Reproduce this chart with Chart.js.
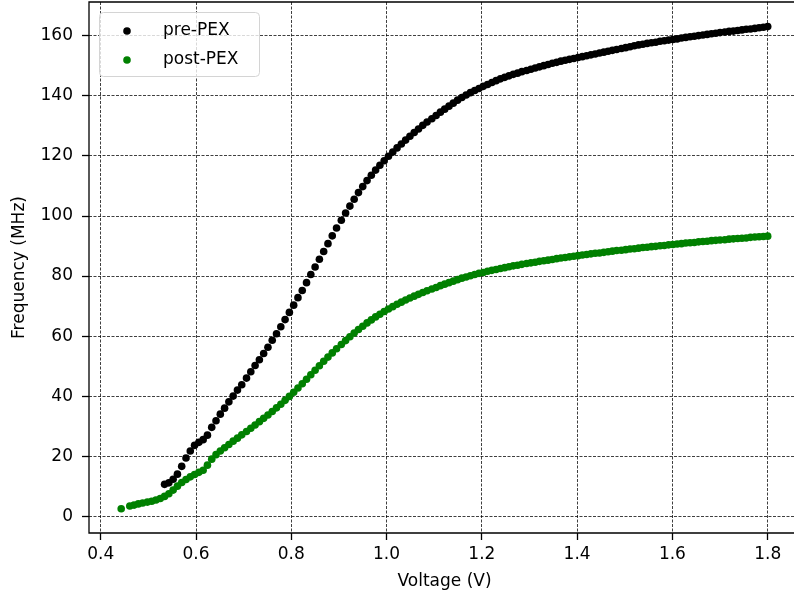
<!DOCTYPE html>
<html>
<head>
<meta charset="utf-8">
<script src="https://cdn.jsdelivr.net/npm/chart.js@4.4.1/dist/chart.umd.min.js"></script>
<style>
  html, body { margin: 0; padding: 0; overflow: hidden; background: #fff; }
  #wrap { width: 794px; height: 596px; overflow: hidden; }
  canvas { display: block; }
</style>
</head>
<body>
<div id="wrap"><canvas id="freqChart" width="802" height="596"></canvas></div>
<script>
// sweep voltages (V)
const voltage = [
  0.443, 0.452, 0.461, 0.470, 0.479, 0.488, 0.498, 0.507, 0.516, 0.525,
  0.534, 0.543, 0.552, 0.561, 0.570, 0.579, 0.588, 0.597, 0.606, 0.615,
  0.624, 0.633, 0.642, 0.651, 0.660, 0.669, 0.678, 0.687, 0.696, 0.706,
  0.715, 0.724, 0.733, 0.742, 0.751, 0.760, 0.769, 0.778, 0.787, 0.796,
  0.805, 0.814, 0.823, 0.832, 0.841, 0.850, 0.859, 0.868, 0.877, 0.886,
  0.895, 0.905, 0.914, 0.923, 0.932, 0.941, 0.950, 0.959, 0.968, 0.977,
  0.986, 0.995, 1.004, 1.013, 1.022, 1.031, 1.040, 1.049, 1.058, 1.067,
  1.076, 1.085, 1.095, 1.104, 1.113, 1.122, 1.131, 1.140, 1.149, 1.158,
  1.167, 1.176, 1.185, 1.194, 1.203, 1.212, 1.221, 1.230, 1.239, 1.248,
  1.257, 1.266, 1.275, 1.284, 1.294, 1.303, 1.312, 1.321, 1.330, 1.339,
  1.348, 1.357, 1.366, 1.375, 1.384, 1.393, 1.402, 1.411, 1.420, 1.429,
  1.438, 1.447, 1.456, 1.465, 1.474, 1.483, 1.493, 1.502, 1.511, 1.520,
  1.529, 1.538, 1.547, 1.556, 1.565, 1.574, 1.583, 1.592, 1.601, 1.610,
  1.619, 1.628, 1.637, 1.646, 1.655, 1.664, 1.673, 1.682, 1.691, 1.700,
  1.710, 1.719, 1.728, 1.737, 1.746, 1.755, 1.764, 1.773, 1.782, 1.791,
  1.800
];

// frequency (MHz), null = no oscillation / no sample
const prePex = [
  null, null, null, null, null, null, null, null, null, null,
  10.6, 11.1, 12.3, 14.0, 16.6, 19.4, 21.7, 23.6, 24.6, 25.5,
  27.0, 29.6, 31.8, 34.0, 36.0, 38.1, 40.0, 42.0, 43.8, 46.0,
  48.1, 50.2, 52.1, 54.2, 56.3, 58.6, 60.8, 63.1, 65.5, 67.9,
  70.3, 72.8, 75.2, 77.8, 80.5, 83.0, 85.6, 88.2, 90.8, 93.4,
  96.0, 98.6, 101.0, 103.3, 105.6, 107.8, 109.8, 111.8, 113.6, 115.3,
  116.9, 118.4, 119.9, 121.3, 122.7, 124.0, 125.3, 126.6, 127.8, 129.0,
  130.2, 131.3, 132.4, 133.5, 134.6, 135.6, 136.6, 137.6, 138.6, 139.5,
  140.3, 141.1, 141.8, 142.5, 143.2, 143.8, 144.5, 145.1, 145.7, 146.2,
  146.7, 147.2, 147.6, 148.1, 148.5, 148.9, 149.3, 149.7, 150.1, 150.5,
  150.9, 151.2, 151.6, 151.9, 152.2, 152.5, 152.8, 153.1, 153.4, 153.7,
  154.0, 154.3, 154.6, 154.9, 155.2, 155.5, 155.8, 156.1, 156.4, 156.7,
  157.0, 157.2, 157.5, 157.7, 157.9, 158.2, 158.4, 158.6, 158.8, 159.0,
  159.3, 159.5, 159.7, 159.9, 160.1, 160.3, 160.5, 160.7, 160.9, 161.1,
  161.3, 161.5, 161.6, 161.8, 162.0, 162.2, 162.3, 162.5, 162.7, 162.9,
  163.1
];

const postPex = [
  2.5, null, 3.4, 3.7, 4.1, 4.4, 4.7, 5.0, 5.4, 5.9,
  6.6, 7.5, 8.7, 10.0, 11.2, 12.2, 13.1, 13.9, 14.6, 15.3,
  17.0, 19.0, 20.5, 21.7, 22.8, 23.9, 25.0, 26.0, 27.1, 28.2,
  29.3, 30.4, 31.5, 32.6, 33.7, 34.9, 36.1, 37.3, 38.6, 39.9,
  41.3, 42.7, 44.1, 45.6, 47.1, 48.6, 50.1, 51.6, 53.0, 54.4,
  55.8, 57.2, 58.5, 59.8, 61.0, 62.2, 63.3, 64.4, 65.4, 66.4,
  67.3, 68.2, 69.0, 69.8, 70.6, 71.3, 72.0, 72.7, 73.3, 73.9,
  74.5, 75.1, 75.7, 76.2, 76.8, 77.3, 77.8, 78.3, 78.8, 79.3,
  79.7, 80.1, 80.5, 80.9, 81.2, 81.6, 81.9, 82.2, 82.5, 82.8,
  83.1, 83.4, 83.6, 83.9, 84.2, 84.4, 84.6, 84.9, 85.1, 85.3,
  85.5, 85.8, 86.0, 86.2, 86.4, 86.6, 86.8, 87.0, 87.2, 87.4,
  87.6, 87.7, 87.9, 88.1, 88.3, 88.5, 88.6, 88.8, 89.0, 89.1,
  89.3, 89.5, 89.6, 89.8, 89.9, 90.1, 90.2, 90.4, 90.5, 90.7,
  90.8, 91.0, 91.1, 91.2, 91.4, 91.5, 91.6, 91.8, 91.9, 92.0,
  92.1, 92.3, 92.4, 92.5, 92.6, 92.7, 92.9, 93.0, 93.1, 93.2,
  93.3
];

const xTicks = [0.4, 0.6, 0.8, 1.0, 1.2, 1.4, 1.6, 1.8];
const yTicks = [0, 20, 40, 60, 80, 100, 120, 140, 160];

const FONT = 'DejaVu Sans';

function toPoints(values) {
  const pts = [];
  values.forEach((f, i) => {
    if (f !== null) pts.push({ x: voltage[i], y: f });
  });
  return pts;
}

// no extra room for overhanging tick labels: keep the plot box fixed
function noOverhang(s) {
  s.paddingLeft = 0;
  s.paddingRight = 0;
  s.paddingTop = 0;
  s.paddingBottom = 0;
}

// axes frame: left, top and bottom spines (right one falls outside the picture)
const frame = {
  id: 'frame',
  afterDraw(chart) {
    const { ctx, chartArea: a } = chart;
    ctx.save();
    ctx.strokeStyle = '#000';
    ctx.lineWidth = 1.3;
    ctx.beginPath();
    ctx.moveTo(a.right + 2, a.top);
    ctx.lineTo(a.left, a.top);
    ctx.lineTo(a.left, a.bottom);
    ctx.lineTo(a.right + 2, a.bottom);
    ctx.stroke();
    ctx.restore();
  }
};

// legend box in upper left corner
const legendBox = {
  id: 'legendBox',
  afterDraw(chart) {
    const ctx = chart.ctx;
    ctx.save();
    ctx.beginPath();
    ctx.roundRect(99.5, 12.5, 160, 64, 4);
    ctx.fillStyle = 'rgba(255,255,255,0.8)';
    ctx.fill();
    ctx.strokeStyle = '#d4d4d4';
    ctx.lineWidth = 1;
    ctx.stroke();
    chart.data.datasets.forEach((ds, i) => {
      const y = 31 + i * 29;
      ctx.beginPath();
      ctx.arc(127, y, 3.8, 0, Math.PI * 2);
      ctx.fillStyle = ds.backgroundColor;
      ctx.fill();
      ctx.fillStyle = '#000';
      ctx.font = '17px "' + FONT + '"';
      ctx.textBaseline = 'middle';
      ctx.fillText(ds.label, 163, y);
    });
    ctx.restore();
  }
};

const gridOpts = {
  color: 'rgba(0,0,0,0.75)',
  lineWidth: 1,
  tickColor: '#000',
  tickLength: 7,
  tickWidth: 1.3,
  tickBorderDash: []
};

const ctx = document.getElementById('freqChart').getContext('2d');
new Chart(ctx, {
  type: 'scatter',
  data: {
    datasets: [
      {
        label: 'pre-PEX',
        data: toPoints(prePex),
        backgroundColor: '#000000',
        borderWidth: 0,
        pointRadius: 3.8,
        pointHoverRadius: 3.8
      },
      {
        label: 'post-PEX',
        data: toPoints(postPex),
        backgroundColor: '#008000',
        borderWidth: 0,
        pointRadius: 3.8,
        pointHoverRadius: 3.8
      }
    ]
  },
  options: {
    responsive: false,
    devicePixelRatio: 1,
    animation: false,
    layout: { autoPadding: false, padding: { top: 2, right: 2, left: 0, bottom: 0 } },
    plugins: {
      legend: { display: false },
      tooltip: { enabled: false }
    },
    scales: {
      x: {
        type: 'linear',
        min: 0.3754,
        max: 1.8678,
        z: 1,
        afterFit: s => { s.height = 63; noOverhang(s); },
        afterBuildTicks: s => { s.ticks = xTicks.map(v => ({ value: v })); },
        grid: gridOpts,
        border: { display: false, dash: [3, 1.5] },
        ticks: {
          color: '#000',
          padding: 4,
          maxRotation: 0,
          font: { family: FONT, size: 17 },
          callback: v => v.toFixed(1)
        },
        title: {
          display: true,
          text: 'Voltage (V)',
          color: '#000',
          font: { family: FONT, size: 17 },
          padding: { top: 0, bottom: 4 }
        }
      },
      y: {
        type: 'linear',
        min: -5.6,
        max: 171.3,
        z: 1,
        afterFit: s => { s.width = 89; noOverhang(s); },
        afterBuildTicks: s => { s.ticks = yTicks.map(v => ({ value: v })); },
        grid: gridOpts,
        border: { display: false, dash: [3, 1.5] },
        ticks: {
          color: '#000',
          padding: 9,
          font: { family: FONT, size: 17 }
        },
        title: {
          display: true,
          text: 'Frequency (MHz)',
          color: '#000',
          font: { family: FONT, size: 17 },
          padding: { top: 9, bottom: 0 }
        }
      }
    }
  },
  plugins: [frame, legendBox]
});
</script>
</body>
</html>
